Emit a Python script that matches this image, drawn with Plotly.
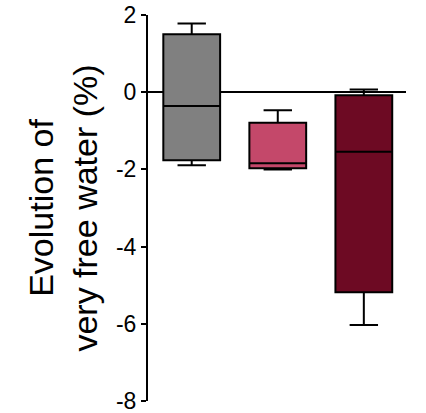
import plotly.graph_objects as go

groups = [0, 1, 2]
colors = ["#808080", "#C4486A", "#6D0A23"]
upper = [1.78, -0.47, 0.07]
q3 = [1.50, -0.79, -0.08]
median = [-0.36, -1.84, -1.54]
q1 = [-1.76, -1.97, -5.18]
lower = [-1.89, -2.00, -6.03]
y_ticks = [2, 0, -2, -4, -6, -8]

fig = go.Figure()
for g, c, up, a, m, b, lo in zip(groups, colors, upper, q3, median, q1, lower):
    fig.add_trace(go.Box(
        x=[g], q1=[b], median=[m], q3=[a], lowerfence=[lo], upperfence=[up],
        width=0.66, whiskerwidth=0.5, fillcolor=c,
        line=dict(color="black", width=2), showlegend=False, hoverinfo="skip",
    ))

fig.update_layout(
    template="none",
    width=426, height=413,
    margin=dict(l=148, r=20, t=15, b=12, pad=0),
    plot_bgcolor="white", paper_bgcolor="white",
    font=dict(family="Liberation Sans, Arial, sans-serif", color="black"),
)
fig.update_xaxes(range=[-0.508, 2.49], showline=False, showgrid=False, automargin=False,
                 zeroline=False, showticklabels=False, ticks="")
fig.update_yaxes(
    range=[-8, 2], tickvals=y_ticks, ticktext=[str(v) for v in y_ticks],
    automargin=False, ticklabeloverflow="allow",
    showline=True, linecolor="black", linewidth=2,
    ticks="outside", ticklen=5, tickwidth=2, tickcolor="black",
    tickfont=dict(size=23), showgrid=False,
    zeroline=True, zerolinecolor="black", zerolinewidth=2,
    title=dict(text="Evolution of<br>very free water (%)", font=dict(size=34), standoff=8),
)
fig.write_html(
    "out.html",
    config={"displayModeBar": False},
    post_script="document.body.style.margin='0';document.body.style.overflow='hidden';",
)
